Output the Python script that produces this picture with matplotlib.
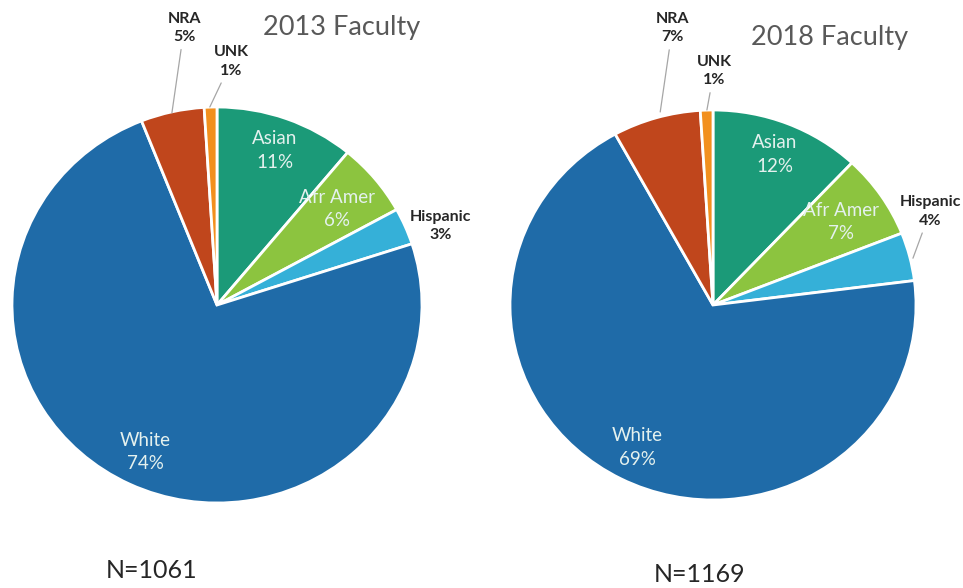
import numpy as np
import matplotlib

matplotlib.use("Agg")
import matplotlib.pyplot as plt

plt.rcParams["font.family"] = ["Lato", "DejaVu Sans"]

groups = ["Asian", "Afr Amer", "Hispanic", "White", "NRA", "UNK"]
share_2013 = [11, 6, 3, 74, 5, 1]
share_2018 = [12, 7, 4, 69, 7, 1]
titles = ["2013 Faculty", "2018 Faculty"]
counts = ["N=1061", "N=1169"]

colors = ["#1b9a78", "#8cc43f", "#35b0d8", "#1f6ba8", "#c0461c", "#f2901e"]
inside = {"Asian": 0.83, "Afr Amer": 0.76, "White": 0.82}
W, H = 963, 588

# pie geometry in pixels: centre x, centre y (from top), radius x, radius y
layouts = [
    dict(cx=217, cy=305, rx=205, ry=198, title=(342, 27), count=(152, 570),
         outside={"Hispanic": (1.09, 0.40, None), "NRA": (-0.16, 1.40, (-0.22, 0.97)),
                  "UNK": (0.07, 1.23, (-0.035, 1.0))}),
    dict(cx=713, cy=305, rx=203, ry=195, title=(830, 37), count=(700, 575),
         outside={"Hispanic": (1.07, 0.48, (0.985, 0.24)), "NRA": (-0.20, 1.42, (-0.26, 0.99)),
                  "UNK": (0.005, 1.20, (-0.03, 1.0))}),
]

fig = plt.figure(figsize=(W / 100, H / 100), dpi=100)

for values, title, count, lay in zip([share_2013, share_2018], titles, counts, layouts):
    ax = fig.add_axes([(lay["cx"] - lay["rx"]) / W, (H - lay["cy"] - lay["ry"]) / H,
                       2 * lay["rx"] / W, 2 * lay["ry"] / H])
    wedges, _ = ax.pie(values, colors=colors, startangle=90, counterclock=False, radius=1,
                       wedgeprops=dict(edgecolor="white", linewidth=2))
    ax.set_aspect("auto")
    ax.set_xlim(-1, 1)
    ax.set_ylim(-1, 1)

    for name, val, w in zip(groups, values, wedges):
        text = f"{name}\n{val}%"
        if name in inside:
            mid = np.deg2rad((w.theta1 + w.theta2) / 2)
            r = inside[name]
            ax.text(r * np.cos(mid), r * np.sin(mid), text, ha="center", va="center",
                    color="#e4f1ee", fontsize=13.5, linespacing=1.45)
        else:
            x, y, edge = lay["outside"][name]
            if edge is None:
                ax.text(x, y, text, ha="center", va="center", color="#262626",
                        fontsize=11.5, fontweight="bold", linespacing=1.4)
            else:
                ax.annotate(text, xy=edge, xytext=(x, y), ha="center", va="center",
                            color="#262626", fontsize=11.5, fontweight="bold", linespacing=1.4,
                            arrowprops=dict(arrowstyle="-", color="#a6a6a6", lw=0.9,
                                            shrinkA=2, shrinkB=0))

    fig.text(lay["title"][0] / W, 1 - lay["title"][1] / H, title, ha="center", va="center",
             color="#595959", fontsize=19.5)
    fig.text(lay["count"][0] / W, 1 - lay["count"][1] / H, count, ha="center", va="center",
             color="#262626", fontsize=18)

fig.savefig("out.png", dpi=100)
